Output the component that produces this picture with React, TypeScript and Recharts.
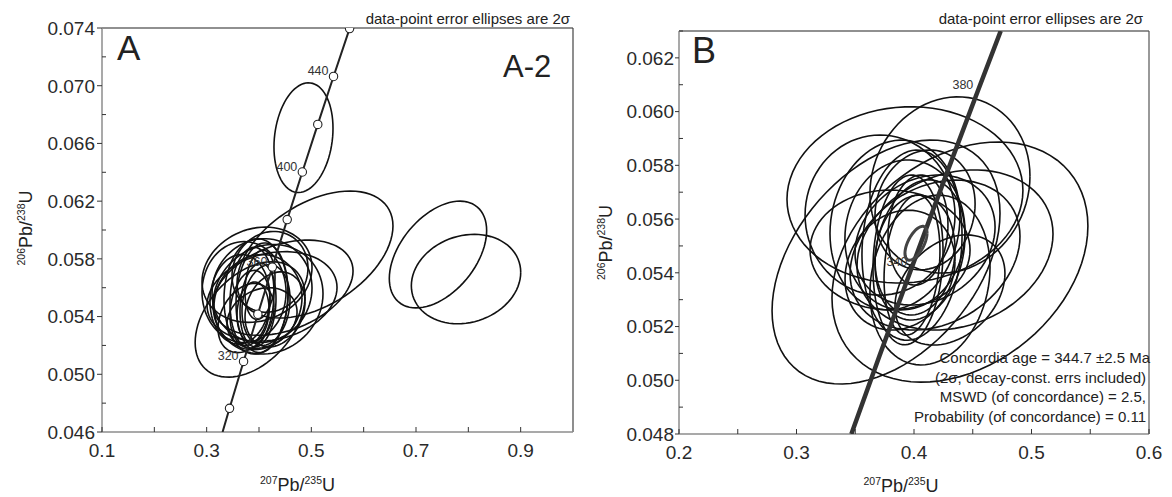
import { ScatterChart, Scatter, XAxis, YAxis, ReferenceLine, Label } from 'recharts'

// error ellipses: [x, 2σ x, y, 2σ y, rho]
type Ell = [number, number, number, number, number]

const ellipsesA: Ell[] = [
  [0.485, 0.0564, 0.0664, 0.0038, 0.17],
  [0.742, 0.093, 0.0583, 0.0037, 0.45],
  [0.7956, 0.1045, 0.0566, 0.0031, 0.15],
  [0.507, 0.149, 0.0583, 0.0044, 0.45],
  [0.383, 0.105, 0.0538, 0.004, 0.4],
  [0.3962, 0.1051, 0.0569, 0.0033, 0.15],
  [0.4459, 0.1338, 0.056, 0.0033, 0.35],
  [0.4249, 0.1242, 0.0554, 0.0031, 0.2],
  [0.4172, 0.1051, 0.0552, 0.0038, 0.1],
  [0.4058, 0.0955, 0.0558, 0.0036, 0.05],
  [0.3981, 0.0841, 0.055, 0.0033, 0.1],
  [0.3714, 0.0803, 0.0557, 0.0035, 0.0],
  [0.3637, 0.0573, 0.0552, 0.0031, 0.05],
  [0.3866, 0.042, 0.0553, 0.0035, 0.1],
  [0.3981, 0.0344, 0.0548, 0.0029, 0.15],
  [0.4058, 0.0497, 0.0553, 0.0038, 0.1],
  [0.3828, 0.0382, 0.0546, 0.0026, 0.2],
  [0.4134, 0.0459, 0.0548, 0.0028, 0.15],
  [0.3943, 0.0612, 0.0554, 0.004, 0.05],
  [0.421, 0.0726, 0.0571, 0.0028, 0.1],
  [0.4019, 0.0287, 0.0562, 0.0024, 0.2],
  [0.3886, 0.0306, 0.0543, 0.0021, 0.1],
  [0.4306, 0.0573, 0.0545, 0.0026, 0.2],
  [0.3752, 0.0535, 0.0539, 0.0024, 0.3],
  [0.4058, 0.0669, 0.0539, 0.0021, 0.2],
]

const ellipsesB: Ell[] = [
  [0.3762, 0.097, 0.0544, 0.00454, 0.4],
  [0.3923, 0.1004, 0.0569, 0.00328, 0.05],
  [0.4306, 0.0681, 0.05727, 0.00328, 0.1],
  [0.4391, 0.1089, 0.0544, 0.00447, 0.3],
  [0.4349, 0.0834, 0.05485, 0.00298, 0.2],
  [0.3711, 0.0638, 0.05615, 0.00298, 0.0],
  [0.3838, 0.0553, 0.05578, 0.00316, 0.1],
  [0.3923, 0.0511, 0.05541, 0.00279, 0.05],
  [0.3983, 0.0426, 0.05503, 0.00354, 0.1],
  [0.4051, 0.0383, 0.05485, 0.00261, 0.2],
  [0.4009, 0.034, 0.05466, 0.00223, 0.1],
  [0.3949, 0.0298, 0.05448, 0.00316, 0.1],
  [0.4094, 0.0596, 0.05522, 0.00242, 0.2],
  [0.4179, 0.0723, 0.05466, 0.00279, 0.25],
  [0.3881, 0.0468, 0.0541, 0.00223, 0.15],
  [0.4034, 0.0255, 0.05559, 0.00205, 0.1],
  [0.3983, 0.0238, 0.05429, 0.00261, 0.2],
  [0.4136, 0.0511, 0.05373, 0.00316, 0.15],
  [0.3796, 0.0681, 0.05485, 0.00223, 0.0],
  [0.4094, 0.0426, 0.05634, 0.00223, 0.1],
  [0.4306, 0.0468, 0.05336, 0.00205, 0.3],
]

// concordia age ellipse (B)
const ageEllipseB: Ell = [0.4017, 0.0094, 0.0551, 0.00063, 0.6]

// concordia curve points (age in Ma)
const concordiaA = [
  { age: 290, x: 0.3304, y: 0.046 },
  { age: 300, x: 0.3437, y: 0.04764 },
  { age: 320, x: 0.3705, y: 0.05089 },
  { age: 340, x: 0.3978, y: 0.05416 },
  { age: 360, x: 0.4255, y: 0.05743 },
  { age: 380, x: 0.4539, y: 0.06072 },
  { age: 400, x: 0.4828, y: 0.06402 },
  { age: 420, x: 0.5123, y: 0.06732 },
  { age: 440, x: 0.5424, y: 0.07064 },
  { age: 460, x: 0.5731, y: 0.07396 },
]
const marksA = [300, 320, 340, 360, 380, 400, 420, 440, 460]
const labelsA = [320, 360, 400, 440]

const concordiaB = [
  { age: 302, x: 0.3467, y: 0.048 },
  { age: 320, x: 0.3705, y: 0.05089 },
  { age: 340, x: 0.3978, y: 0.05416 },
  { age: 360, x: 0.4255, y: 0.05743 },
  { age: 380, x: 0.4539, y: 0.06072 },
  { age: 394, x: 0.4738, y: 0.063 },
]
const labelsB = [340, 380]

const xTicksA = [0.1, 0.2, 0.3, 0.4, 0.5, 0.6, 0.7, 0.8, 0.9]
const xLabelsA = [0.1, 0.3, 0.5, 0.7, 0.9]
const yTicksA = [0.046, 0.048, 0.05, 0.052, 0.054, 0.056, 0.058, 0.06, 0.062, 0.064, 0.066, 0.068, 0.07, 0.072, 0.074]
const yLabelsA = [0.046, 0.05, 0.054, 0.058, 0.062, 0.066, 0.07, 0.074]

const xTicksB = [0.2, 0.25, 0.3, 0.35, 0.4, 0.45, 0.5, 0.55, 0.6]
const xLabelsB = [0.2, 0.3, 0.4, 0.5, 0.6]
const yTicksB = [0.048, 0.049, 0.05, 0.051, 0.052, 0.053, 0.054, 0.055, 0.056, 0.057, 0.058, 0.059, 0.06, 0.061, 0.062, 0.063]
const yLabelsB = [0.048, 0.05, 0.052, 0.054, 0.056, 0.058, 0.06, 0.062]

const statsB = [
  'Concordia age = 344.7 ±2.5 Ma',
  '(2σ, decay-const. errs included)',
  'MSWD (of concordance) = 2.5,',
  'Probability (of concordance) = 0.11',
]

const FONT = '"Liberation Sans", Arial, Helvetica, sans-serif'
const TICK_FS = 19

function outline([cx, ax, cy, ay, rho]: Ell) {
  const pts = []
  const k = Math.sqrt(1 - rho * rho)
  for (let i = 0; i <= 80; i++) {
    const t = (i / 80) * Math.PI * 2
    pts.push({ x: cx + ax * Math.cos(t), y: cy + ay * (rho * Math.cos(t) + k * Math.sin(t)) })
  }
  return pts
}

const isIn = (list: number[], v: number) => list.some((l) => Math.abs(l - v) < 1e-6)

const noDot = () => <g />

// y ticks: labelled ones point outward, minor ones inward
const yTick = (labels: number[], size: number, margin: number) => (props: any) => {
  const { x, y, payload } = props
  const ax = x + size + margin
  const major = isIn(labels, payload.value)
  return (
    <g>
      <line x1={ax} x2={major ? ax - size : ax + 4} y1={y} y2={y} stroke="#333" strokeWidth={1} />
      {major && (
        <text x={x} y={y} dy="0.36em" textAnchor="end" fontSize={TICK_FS} fontFamily={FONT} fill="#2a2a2a">
          {payload.value.toFixed(3)}
        </text>
      )}
    </g>
  )
}

// x ticks all point inward
const xTick = (labels: number[], size: number, margin: number) => (props: any) => {
  const { x, y, payload } = props
  const ay = y - size - margin
  const major = isIn(labels, payload.value)
  return (
    <g>
      <line x1={x} x2={x} y1={ay} y2={ay - 5} stroke="#333" strokeWidth={1} />
      {major && (
        <text x={x} y={y} dy="0.75em" textAnchor="middle" fontSize={TICK_FS} fontFamily={FONT} fill="#2a2a2a">
          {payload.value.toFixed(1)}
        </text>
      )}
    </g>
  )
}

function IsoTitle({ x, y, a, b, rotate }: { x: number; y: number; a: string; b: string; rotate?: boolean }) {
  return (
    <text
      x={x}
      y={y}
      textAnchor="middle"
      fontFamily={FONT}
      fontSize={18}
      fill="#222"
      transform={rotate ? `rotate(-90, ${x}, ${y})` : undefined}
    >
      <tspan fontSize={10.5} dy={-7}>{a}</tspan>
      <tspan dy={7}>Pb/</tspan>
      <tspan fontSize={10.5} dy={-7}>{b}</tspan>
      <tspan dy={7}>U</tspan>
    </text>
  )
}

function MarkA(props: any) {
  const { cx, cy, payload } = props
  if (!marksA.includes(payload.age)) return <g />
  return (
    <g>
      {labelsA.includes(payload.age) && (
        <text x={cx - 5} y={cy - 1} textAnchor="end" fontSize={12.5} fontFamily={FONT} fill="#333">
          {payload.age}
        </text>
      )}
      <circle cx={cx} cy={cy} r={4.2} fill="#fff" stroke="#222" strokeWidth={1.1} />
    </g>
  )
}

function MarkB(props: any) {
  const { cx, cy, payload } = props
  if (!labelsB.includes(payload.age)) return <g />
  return (
    <text x={cx - 4} y={cy - 3} textAnchor="end" fontSize={12.5} fontFamily={FONT} fill="#333">
      {payload.age}
    </text>
  )
}

function PanelA() {
  return (
    <ScatterChart width={586} height={497} margin={{ top: 28, right: 13, bottom: 35, left: 40 }}>
      <XAxis
        type="number"
        dataKey="x"
        domain={[0.1, 1.0]}
        ticks={xTicksA}
        interval={0}
        allowDataOverflow
        height={30}
        tickSize={5}
        tickMargin={6}
        tick={xTick(xLabelsA, 5, 6)}
        tickLine={false}
        axisLine={{ stroke: '#8c8c8c', strokeWidth: 1.5 }}
      >
        <Label content={(p: any) => <IsoTitle x={p.viewBox.x + p.viewBox.width / 2 - 40} y={p.viewBox.y + 59} a="207" b="235" />} />
      </XAxis>
      <YAxis
        type="number"
        dataKey="y"
        domain={[0.046, 0.074]}
        ticks={yTicksA}
        interval={0}
        allowDataOverflow
        width={62}
        tickSize={5}
        tickMargin={2}
        tick={yTick(yLabelsA, 5, 2)}
        tickLine={false}
        axisLine={{ stroke: '#8c8c8c', strokeWidth: 1.5 }}
      >
        <Label content={(p: any) => <IsoTitle x={p.viewBox.x - 8} y={p.viewBox.y + p.viewBox.height / 2 - 2} a="206" b="238" rotate />} />
      </YAxis>
      <ReferenceLine y={0.074} stroke="#222" strokeWidth={1.2} />
      <ReferenceLine x={1.0} stroke="#444" strokeWidth={1.2} />
      {ellipsesA.map((e, i) => (
        <Scatter
          key={i}
          data={outline(e)}
          line={{ stroke: '#111', strokeWidth: 1.6 }}
          shape={noDot}
          isAnimationActive={false}
        />
      ))}
      <Scatter data={concordiaA} line={{ stroke: '#222', strokeWidth: 2 }} shape={noDot} isAnimationActive={false} />
      <Scatter data={concordiaA} shape={MarkA} isAnimationActive={false} />
    </ScatterChart>
  )
}

function PanelB() {
  return (
    <ScatterChart width={586} height={497} margin={{ top: 31, right: 23, bottom: 33, left: 31 }}>
      <XAxis
        type="number"
        dataKey="x"
        domain={[0.2, 0.6]}
        ticks={xTicksB}
        interval={0}
        allowDataOverflow
        height={30}
        tickSize={5}
        tickMargin={6}
        tick={xTick(xLabelsB, 5, 6)}
        tickLine={false}
        axisLine={{ stroke: '#8c8c8c', strokeWidth: 1.5 }}
      >
        <Label content={(p: any) => <IsoTitle x={p.viewBox.x + p.viewBox.width / 2 - 13} y={p.viewBox.y + 58} a="207" b="235" />} />
      </XAxis>
      <YAxis
        type="number"
        dataKey="y"
        domain={[0.048, 0.063]}
        ticks={yTicksB}
        interval={0}
        allowDataOverflow
        width={62}
        tickSize={4}
        tickMargin={1}
        tick={yTick(yLabelsB, 4, 1)}
        tickLine={false}
        axisLine={{ stroke: '#8c8c8c', strokeWidth: 1.5 }}
      >
        <Label content={(p: any) => <IsoTitle x={p.viewBox.x - 5} y={p.viewBox.y + p.viewBox.height / 2 + 10} a="206" b="238" rotate />} />
      </YAxis>
      <ReferenceLine y={0.063} stroke="#222" strokeWidth={1.2} />
      <ReferenceLine x={0.6} stroke="#555" strokeWidth={1.2} />
      {ellipsesB.map((e, i) => (
        <Scatter
          key={i}
          data={outline(e)}
          line={{ stroke: '#111', strokeWidth: 1.6 }}
          shape={noDot}
          isAnimationActive={false}
        />
      ))}
      <Scatter data={concordiaB} line={{ stroke: '#333', strokeWidth: 4.5 }} shape={MarkB} isAnimationActive={false} />
      <Scatter data={outline(ageEllipseB)} line={{ stroke: '#444', strokeWidth: 3 }} shape={noDot} isAnimationActive={false} />
    </ScatterChart>
  )
}

export default function App() {
  return (
    <div style={{ position: 'absolute', left: 0, top: 0, width: 1172, height: 497, background: '#fff' }}>
      <div style={{ position: 'absolute', left: 0, top: 0 }}>
        <PanelA />
      </div>
      <div style={{ position: 'absolute', left: 586, top: 0 }}>
        <PanelB />
      </div>
      <svg width={1172} height={497} style={{ position: 'absolute', left: 0, top: 0, pointerEvents: 'none' }} fontFamily={FONT}>
        <text x={117} y={60} fontSize={35} fill="#222">A</text>
        <text x={503} y={77} fontSize={31} fill="#222">A-2</text>
        <text x={570} y={24} fontSize={15} fill="#222" textAnchor="end">data-point error ellipses are 2σ</text>
        <text x={692} y={63} fontSize={36} fill="#222">B</text>
        <text x={1143} y={24} fontSize={15} fill="#222" textAnchor="end">data-point error ellipses are 2σ</text>
        {statsB.map((s, i) => (
          <text key={i} x={i === 0 ? 1150 : 1146} y={363 + i * 19.7} fontSize={15} fill="#222" textAnchor="end">
            {s}
          </text>
        ))}
      </svg>
    </div>
  )
}
